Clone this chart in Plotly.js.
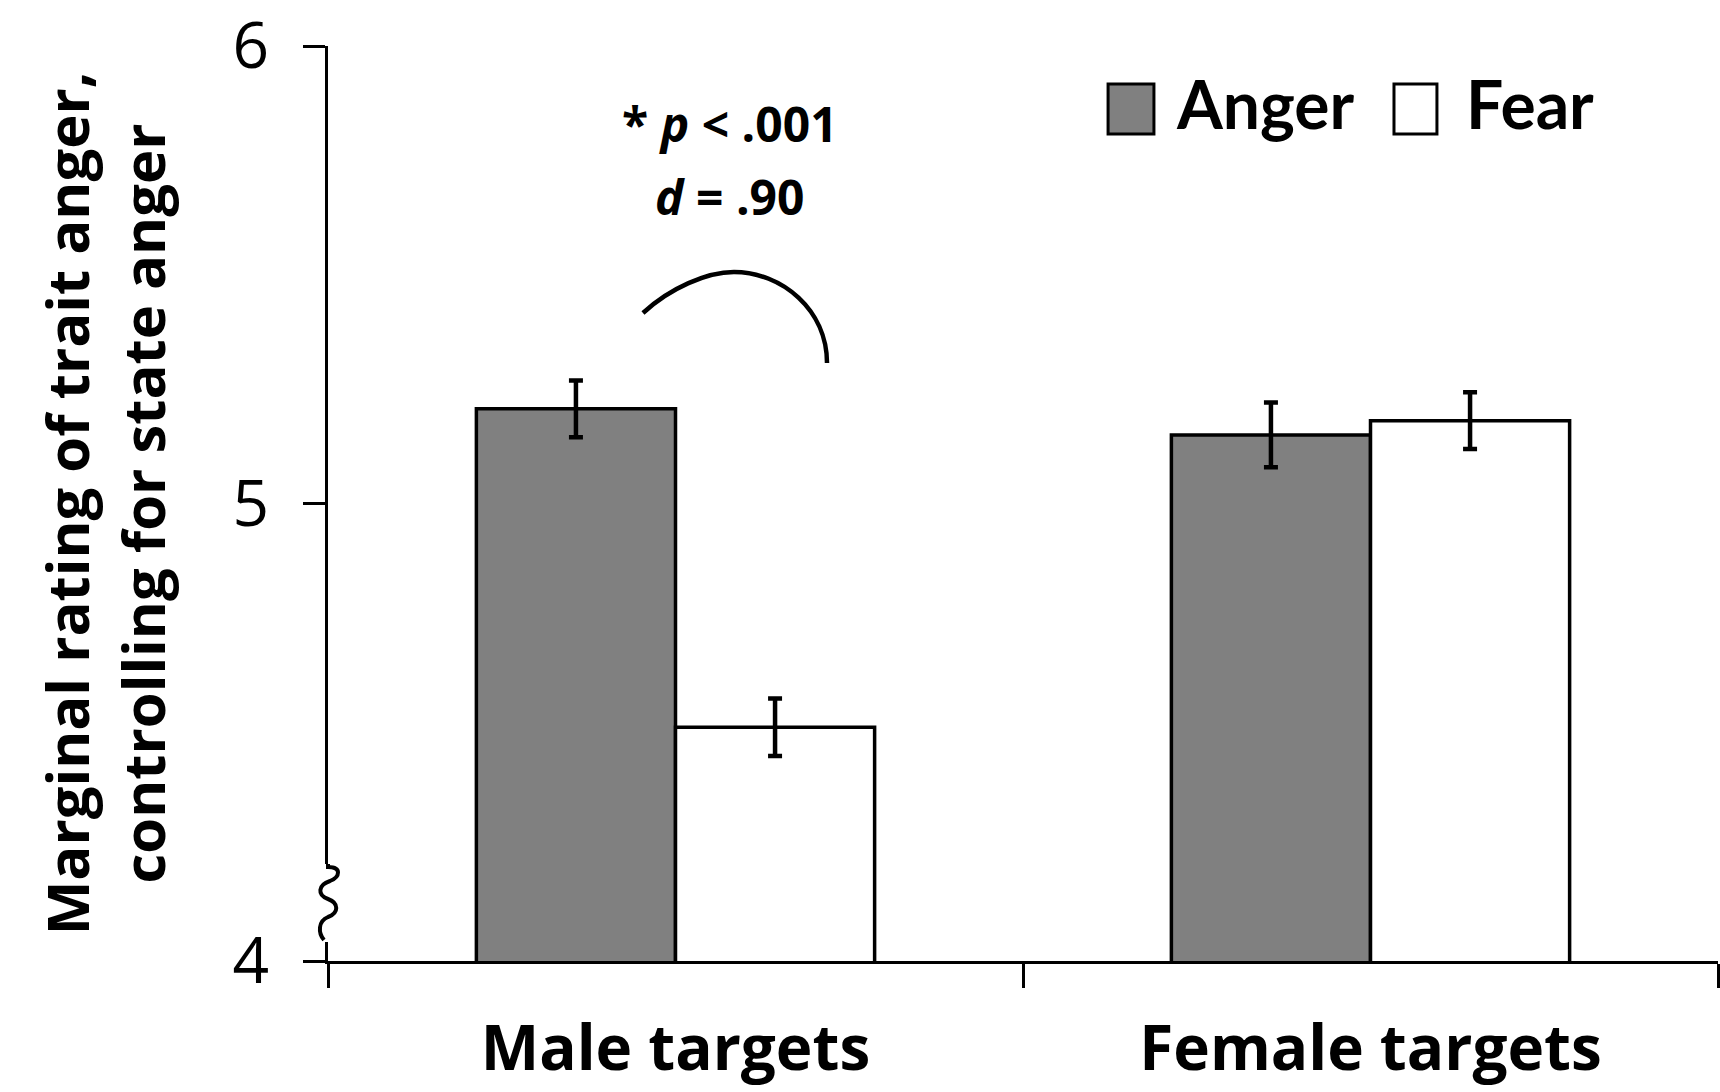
<!DOCTYPE html>
<html>
<head>
<meta charset="utf-8">
<script src="https://cdn.plot.ly/plotly-3.0.1.min.js"></script>
<style>
  html, body { margin: 0; padding: 0; background: #ffffff; }
  #chart { width: 1720px; height: 1092px; }
</style>
</head>
<body>
<div id="chart"></div>
<script>
// ---- data ----
const categories = ["Male targets", "Female targets"];
const seriesNames = ["Anger", "Fear"];
const angerValues = [5.207, 5.150];
const angerErrors = [0.062, 0.071];
const fearValues = [4.511, 5.181];
const fearErrors = [0.063, 0.062];
const yTickVals = [4, 5, 6];
const yTickText = ["4", "5", "6"];
const yAxisTitle = "Marginal rating of trait anger,<br>controlling for state anger";
const statLine1 = "<b>* <i>p</i> &lt; .001</b>";
const statLine2 = "<b><i>d</i> = .90</b>";

const FONT = "'Open Sans', Lato, sans-serif";
const LEGEND_FONT = "Lato, 'Open Sans', sans-serif";
const angerColor = "#808080";
const fearColor = "#ffffff";

const traces = [
  {
    type: "bar", name: seriesNames[0], x: categories, y: angerValues,
    marker: { color: angerColor, line: { color: "#000", width: 3.5 } },
    error_y: { type: "data", array: angerErrors, visible: true, color: "#000", thickness: 4.5, width: 7 },
    showlegend: false, hoverinfo: "y"
  },
  {
    type: "bar", name: seriesNames[1], x: categories, y: fearValues,
    marker: { color: fearColor, line: { color: "#000", width: 3.5 } },
    error_y: { type: "data", array: fearErrors, visible: true, color: "#000", thickness: 4.5, width: 7 },
    showlegend: false, hoverinfo: "y"
  }
];

const legendY0 = 0.9038, legendY1 = 0.9585;

const layout = {
  width: 1720, height: 1092,
  paper_bgcolor: "#ffffff", plot_bgcolor: "#ffffff",
  margin: { l: 328, r: 2, t: 46, b: 131, pad: 0 },
  font: { family: FONT, color: "#000" },
  barmode: "group", bargap: 0.427, bargroupgap: 0,
  showlegend: false,
  xaxis: {
    type: "category", range: [-0.5, 1.5],
    showline: true, linecolor: "#000", linewidth: 3,
    ticks: "outside", tickson: "boundaries", ticklen: 24, tickwidth: 3, tickcolor: "#000",
    showgrid: false, zeroline: false,
    tickfont: { family: FONT, size: 62, color: "#000", weight: "bold" },
    ticklabelstandoff: 32
  },
  yaxis: {
    range: [4, 6], tickvals: yTickVals, ticktext: yTickText,
    showline: true, linecolor: "#000", linewidth: 3,
    ticks: "outside", ticklen: 22, tickwidth: 3, tickcolor: "#000",
    showgrid: false, zeroline: false,
    tickfont: { family: FONT, size: 64, color: "#000" },
    ticklabelstandoff: 21,
    title: { text: yAxisTitle, font: { family: FONT, size: 58, color: "#000", weight: "bold" }, standoff: 49 }
  },
  shapes: [
    // significance arc
    { type: "path", xref: "x", yref: "y", layer: "above",
      path: "M -0.0468,5.4164 C -0.0079,5.471 0.0453,5.506 0.0841,5.506 C 0.1532,5.506 0.2180,5.423 0.2180,5.307",
      line: { color: "#000", width: 4.5 } },
    // axis break: white gap then squiggle
    { type: "path", xref: "paper", yref: "y", xsizemode: "pixel", ysizemode: "pixel",
      xanchor: 0, yanchor: 4, layer: "above",
      path: "M 0,97 L 0,19", line: { color: "#fff", width: 7 } },
    { type: "path", xref: "paper", yref: "y", xsizemode: "pixel", ysizemode: "pixel",
      xanchor: 0, yanchor: 4, layer: "above",
      path: "M 0,97 L 0,94 C 14,94 12,84 2,80 C -10,76 -11,66 0,62 C 11,58 11,48 0,44 C -10,40 -10,28 -4,21",
      line: { color: "#000", width: 4 } },
    // legend swatches
    { type: "rect", xref: "paper", yref: "paper", x0: 0.5612, x1: 0.5942, y0: legendY0, y1: legendY1,
      fillcolor: angerColor, line: { color: "#000", width: 3 } },
    { type: "rect", xref: "paper", yref: "paper", x0: 0.7669, x1: 0.7978, y0: legendY0, y1: legendY1,
      fillcolor: fearColor, line: { color: "#000", width: 3 } }
  ],
  annotations: [
    { text: seriesNames[0], xref: "paper", yref: "paper", x: 0.6086, y: 0.9374, xanchor: "left", yanchor: "middle",
      showarrow: false, font: { family: LEGEND_FONT, size: 66, color: "#000", weight: "bold" } },
    { text: seriesNames[1], xref: "paper", yref: "paper", x: 0.8173, y: 0.9374, xanchor: "left", yanchor: "middle",
      showarrow: false, font: { family: LEGEND_FONT, size: 66, color: "#000", weight: "bold" } },
    { text: statLine1, xref: "x", yref: "y", x: 0.078, y: 5.83, xanchor: "center", yanchor: "middle",
      showarrow: false, font: { family: FONT, size: 48, color: "#000" } },
    { text: statLine2, xref: "x", yref: "y", x: 0.078, y: 5.672, xanchor: "center", yanchor: "middle",
      showarrow: false, font: { family: FONT, size: 48, color: "#000" } }
  ]
};

Plotly.newPlot("chart", traces, layout, { displayModeBar: false, staticPlot: true });
</script>
</body>
</html>
